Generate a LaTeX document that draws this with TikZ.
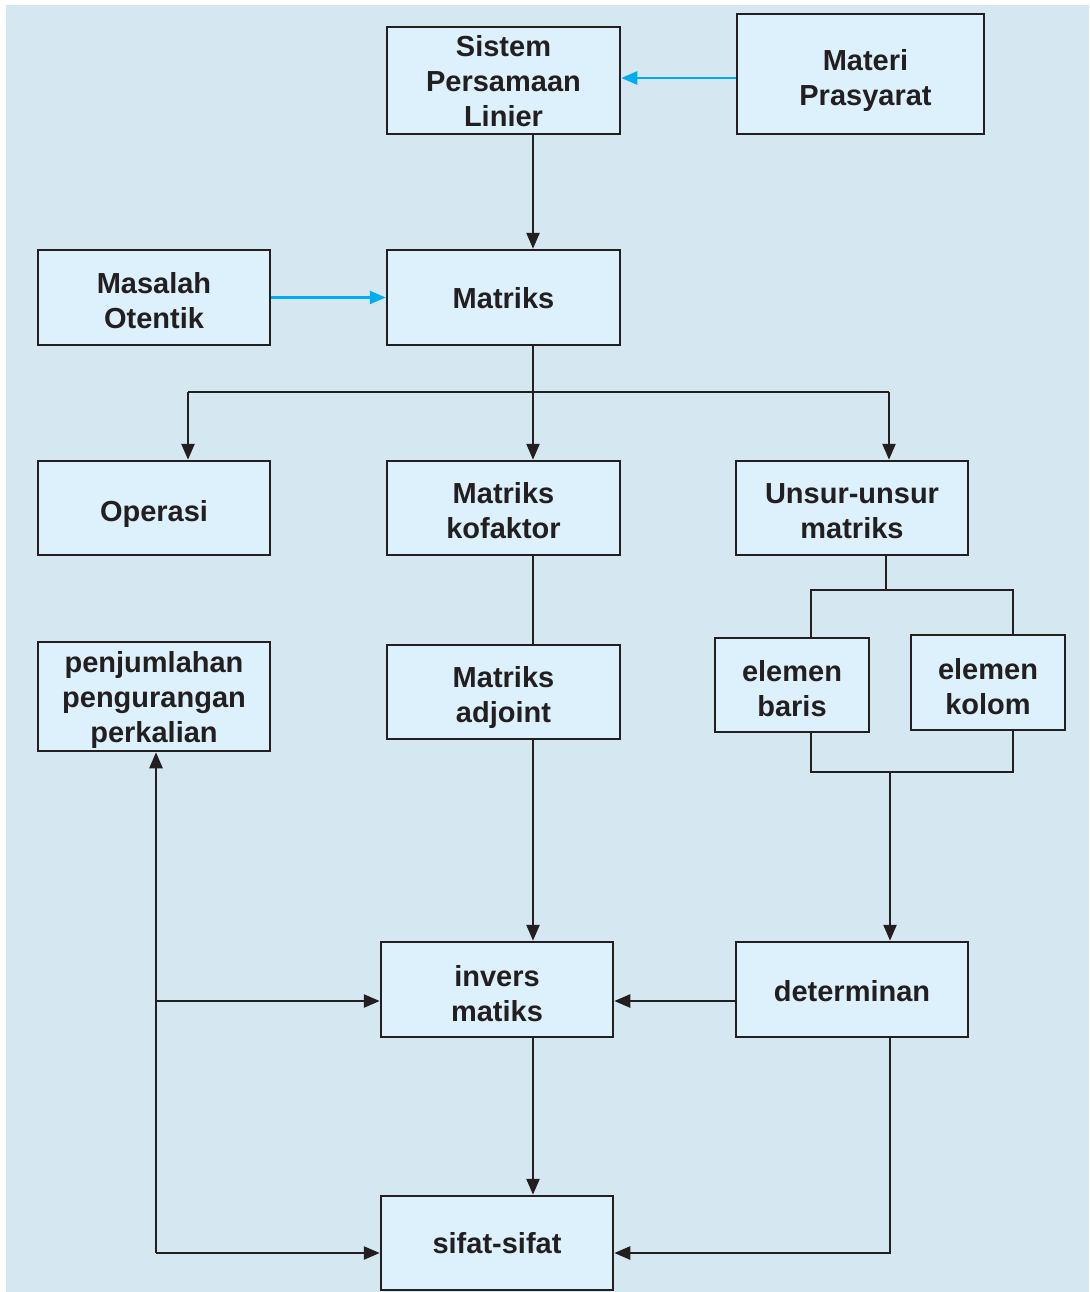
\documentclass[tikz,border=0pt]{standalone}
\usepackage{fontspec}
\setmainfont{Liberation Sans}
\usetikzlibrary{arrows.meta}
\definecolor{bgc}{HTML}{D5E7F0}
\definecolor{boxc}{HTML}{DCF1FB}
\definecolor{inkc}{HTML}{231F20}
\definecolor{cyanc}{HTML}{00AEEF}
\newcommand{\bxt}[3]{\raisebox{-#2}[\height][\depth]{\hspace*{#1}\begin{tabular}{@{}c@{}}#3\end{tabular}\hspace*{-#1}}}
\begin{document}
\begin{tikzpicture}[x=1pt,y=-1pt,
  box/.style={draw=inkc,fill=boxc,line width=2.5pt,inner sep=0pt,
    text=inkc,font=\fontsize{29}{35}\selectfont\bfseries},
  conn/.style={draw=inkc,line width=2.5pt},
  arr/.style={conn,-{Triangle[length=16pt,width=13pt]}},
  carr/.style={draw=cyanc,line width=2.5pt,-{Triangle[length=16pt,width=13pt]}}]
\useasboundingbox (0,0) rectangle (1089,1292);
\fill[white] (0,0) rectangle (1089,1292);
\fill[bgc] (6,5) rectangle (1089,1292);
% nodes
\node[box, minimum width=233pt, minimum height=107pt] (sis) at (503.5,80.5) {\bxt{0pt}{4pt}{Sistem\\Persamaan\\Linier}};
\node[box, minimum width=247pt, minimum height=120pt] (mat) at (860.5,74) {\bxt{5pt}{7pt}{Materi\\Prasyarat}};
\node[box, minimum width=232pt, minimum height=95pt] (mas) at (154,297.5) {\bxt{0pt}{6pt}{Masalah\\Otentik}};
\node[box, minimum width=233pt, minimum height=95pt] (mtx) at (503.5,297.5) {\bxt{0pt}{4pt}{Matriks}};
\node[box, minimum width=232pt, minimum height=94pt] (ope) at (154,508) {\bxt{0pt}{6pt}{Operasi}};
\node[box, minimum width=233pt, minimum height=94pt] (kof) at (503.5,508) {\bxt{0pt}{6pt}{Matriks\\kofaktor}};
\node[box, minimum width=232pt, minimum height=94pt] (uns) at (852,508) {\bxt{0pt}{6pt}{Unsur-unsur\\matriks}};
\node[box, minimum width=232pt, minimum height=109pt] (pen) at (154,696.5) {\bxt{0pt}{4pt}{penjumlahan\\pengurangan\\perkalian}};
\node[box, minimum width=233pt, minimum height=94pt] (adj) at (503.5,692) {\bxt{0pt}{5.5pt}{Matriks\\adjoint}};
\node[box, minimum width=154pt, minimum height=94pt] (bar) at (792,685) {\bxt{0pt}{7pt}{elemen\\baris}};
\node[box, minimum width=154pt, minimum height=95pt] (kol) at (988,682.5) {\bxt{0pt}{7pt}{elemen\\kolom}};
\node[box, minimum width=232pt, minimum height=95pt] (inv) at (497,989.5) {\bxt{0pt}{7pt}{invers\\matiks}};
\node[box, minimum width=232pt, minimum height=95pt] (det) at (852,989.5) {\bxt{0pt}{5pt}{determinan}};
\node[box, minimum width=232pt, minimum height=94pt] (sif) at (497,1243) {\bxt{0pt}{3pt}{sifat-sifat}};
% helper coordinates
\coordinate (xm) at (533,0);
\coordinate (xo) at (188,0);
\coordinate (xu) at (889,0);
\coordinate (xun) at (886,0);
\coordinate (xb) at (811,0);
\coordinate (xk) at (1013,0);
\coordinate (xd) at (890,0);
\coordinate (xl) at (156,0);
\coordinate (ya) at (0,78);
\coordinate (ysplit) at (0,392);
\coordinate (ysplit2) at (0,590);
\coordinate (yjoin) at (0,772);
\coordinate (yinv) at (0,1001);
\coordinate (ysif) at (0,1253);
% connectors
\draw[carr] (mat.west |- ya) -- (sis.east |- ya);
\draw[carr] (mas.east) -- (mtx.west);
\draw[arr] (sis.south -| xm) -- (mtx.north -| xm);
\draw[conn] (mtx.south -| xm) -- (xm |- ysplit);
\draw[conn] (xo |- ysplit) -- (xu |- ysplit);
\draw[arr] (xo |- ysplit) -- (ope.north -| xo);
\draw[arr] (xm |- ysplit) -- (kof.north -| xm);
\draw[arr] (xu |- ysplit) -- (uns.north -| xu);
\draw[conn] (kof.south -| xm) -- (adj.north -| xm);
\draw[conn] (uns.south -| xun) -- (xun |- ysplit2);
\draw[conn] (bar.north -| xb) -- (xb |- ysplit2) -- (xk |- ysplit2) -- (kol.north -| xk);
\draw[conn] (bar.south -| xb) -- (xb |- yjoin) -- (xk |- yjoin) -- (kol.south -| xk);
\draw[arr] (xd |- yjoin) -- (det.north -| xd);
\draw[arr] (adj.south -| xm) -- (inv.north -| xm);
\draw[arr] (det.west |- yinv) -- (inv.east |- yinv);
\draw[arr] (inv.south -| xm) -- (sif.north -| xm);
\draw[arr] (det.south -| xd) -- (xd |- ysif) -- (sif.east |- ysif);
\draw[arr] (xl |- ysif) -- (pen.south -| xl);
\draw[arr] (xl |- yinv) -- (inv.west |- yinv);
\draw[arr] (xl |- ysif) -- (sif.west |- ysif);
\end{tikzpicture}
\end{document}
